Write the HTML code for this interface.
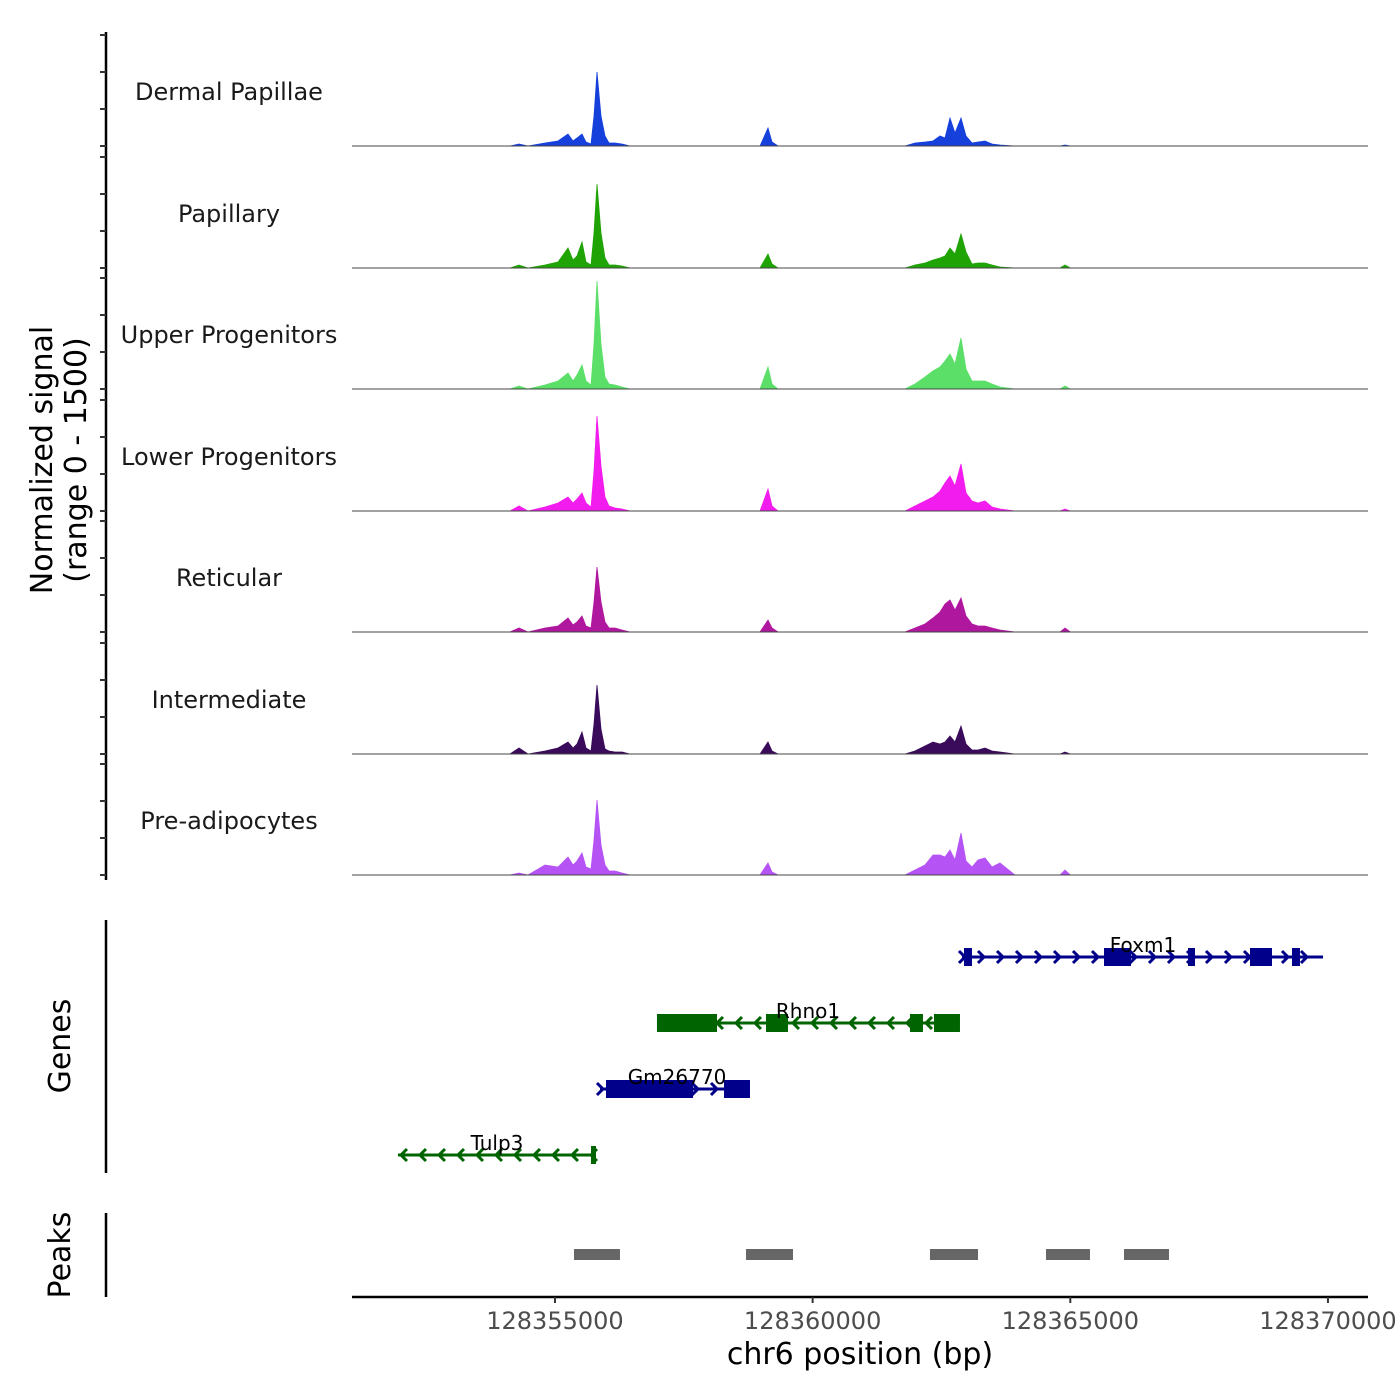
<!DOCTYPE html>
<html><head><meta charset="utf-8"><style>
body{margin:0;background:#fff;}
svg{display:block;font-family:"DejaVu Sans","Liberation Sans",sans-serif;}
</style></head><body>
<svg id="chart" width="1400" height="1400" viewBox="0 0 1400 1400"></svg>
<script>
const positions=[128351061,128354127,128354301,128354476,128354806,128355058,128355252,128355349,128355427,128355524,128355602,128355699,128355757,128355815,128355893,128355970,128356048,128356164,128356300,128356455,128358978,128359133,128359211,128359328,128361792,128361986,128362180,128362335,128362471,128362568,128362665,128362762,128362879,128362976,128363092,128363209,128363344,128363480,128363636,128363927,128364800,128364897,128365000,128365092,128370777];
const trackNames=["Dermal Papillae","Papillary","Upper Progenitors","Lower Progenitors","Reticular","Intermediate","Pre-adipocytes"];
const trackColors=["#1540dc","#1fa305","#5bdf68","#f31cef","#b0179f","#3a0b5b","#b553f5"];
const dermalValues=[0,0,27,0,40,68,162,68,108,162,54,27,405,1000,405,135,40,40,27,0,0,243,54,0,0,40,54,68,135,108,378,176,378,135,40,54,68,27,14,0,0,14,0,0,0];
const papillaryValues=[0,0,40,0,40,81,270,108,162,351,81,40,473,1134,473,135,40,40,27,0,0,189,54,0,0,40,68,108,135,162,270,189,459,216,54,68,68,40,14,0,0,40,0,0,0];
const upperValues=[0,0,40,0,54,108,216,108,189,324,108,54,608,1458,608,162,68,54,27,0,0,297,68,0,0,68,162,243,297,378,473,338,689,270,108,108,108,68,27,0,0,40,0,0,0];
const lowerValues=[0,0,68,0,54,108,189,108,162,243,108,54,540,1283,608,189,68,40,27,0,0,297,68,0,0,68,135,189,270,378,473,338,635,243,135,108,135,54,27,0,0,27,0,0,0];
const reticularValues=[0,0,54,0,54,81,189,95,135,216,81,54,405,878,405,135,54,54,27,0,0,162,54,0,0,54,108,189,270,378,432,297,459,216,108,81,81,54,27,0,0,54,0,0,0];
const intermediateValues=[0,0,81,0,40,81,162,81,135,297,81,40,405,932,338,68,40,27,27,0,0,162,40,0,0,40,108,162,135,162,243,162,378,135,54,54,81,40,27,0,0,27,0,0,0];
const preadipValues=[0,0,27,0,135,108,243,135,189,297,108,81,473,1013,405,135,54,54,27,0,0,162,40,0,0,68,135,270,270,243,338,203,567,189,108,203,230,108,162,0,0,68,0,0,0];
const trackValues=[dermalValues,papillaryValues,upperValues,lowerValues,reticularValues,intermediateValues,preadipValues];
const xTicks=[128355000,128360000,128365000,128370000];
const yTicks=[0,500,1000,1500];
const genes=[
 {name:"Foxm1",strand:"+",start:128362898,end:128369904,row:0,exons:[[128362937,128363092],[128365654,128366178],[128367284,128367420],[128368487,128368914],[128369302,128369457]]},
 {name:"Rhno1",strand:"-",start:128356979,end:128362859,row:1,exons:[[128356979,128358144],[128359095,128359522],[128361889,128362141],[128362355,128362859]]},
 {name:"Gm26770",strand:"+",start:128355873,end:128358784,row:2,exons:[[128355990,128357678],[128358280,128358784]]},
 {name:"Tulp3",strand:"-",start:128351953,end:128355776,row:3,exons:[[128355699,128355796]]}
];
const peakStarts=[128355369,128358707,128362277,128364528,128366042];
const peakEnds=[128356261,128359619,128363209,128365382,128366915];

const NS="http://www.w3.org/2000/svg";
const svg=document.getElementById('chart');
function mk(tag,attrs,parent){const e=document.createElementNS(NS,tag);for(const k in attrs)e.setAttribute(k,attrs[k]);(parent||svg).appendChild(e);return e;}
const X0=352,X1=1368,BP0=128351061,BP1=128370777;
function xs(bp){return X0+(bp-BP0)/(BP1-BP0)*(X1-X0);}
const baselines=[146,268,389,511,632,754,875];
function ys(v,t){return baselines[t]-v*0.074;}

let ax=mk('line',{x1:106,y1:32,x2:106,y2:880,stroke:'#000','stroke-width':2.5});

for(let t=0;t<7;t++){
 for(const tv of yTicks){
  let tk=mk('line',{x1:100,x2:106,y1:ys(tv,t),y2:ys(tv,t),stroke:'#333','stroke-width':2});
  
 }
 const g=mk('g',{});
 
 
 let d='M'+xs(positions[0])+','+baselines[t];
 for(let i=0;i<positions.length;i++)d+=' L'+xs(positions[i]).toFixed(1)+','+ys(trackValues[t][i],t).toFixed(1);
 d+=' L'+xs(positions[positions.length-1])+','+baselines[t]+' Z';
 let p=mk('path',{d:d,fill:trackColors[t],stroke:trackColors[t],'stroke-width':0.8},g);
 
 let bl=mk('line',{x1:X0,x2:X1,y1:baselines[t],y2:baselines[t],stroke:'#444','stroke-width':1},g);
 
 let lb=mk('text',{x:229,y:baselines[t]-46,'text-anchor':'middle','font-size':24,fill:'#1a1a1a'},g);
 lb.textContent=trackNames[t];
 
}
let yt=mk('text',{transform:'translate(52,460) rotate(-90)','text-anchor':'middle','font-size':30,fill:'#000'});

let t1=mk('tspan',{x:0,y:0},yt);t1.textContent='Normalized signal';
let t2=mk('tspan',{x:0,y:34},yt);t2.textContent='(range 0 - 1500)';

let gax=mk('line',{x1:106,y1:920,x2:106,y2:1173,stroke:'#000','stroke-width':2.5});

let gt=mk('text',{transform:'translate(70,1046) rotate(-90)','text-anchor':'middle','font-size':30,fill:'#000'});
gt.textContent='Genes';
const rowY=[957,1023,1089,1155];
const labPos={Foxm1:1143,Rhno1:808,Gm26770:677,Tulp3:497};
for(const gn of genes){
 const col=gn.strand==='+'?'#00008b':'#006400';
 const y=rowY[gn.row];
 const g=mk('g',{});
 
 
 const a=xs(gn.start),b=xs(gn.end);
 mk('line',{x1:a,x2:b,y1:y,y2:y,stroke:col,'stroke-width':3},g);
 for(let cx=a+3;cx<=b;cx+=19){
  const dx=gn.strand==='+'?-6:6;
  mk('polyline',{points:(cx+dx)+','+(y-6)+' '+cx+','+y+' '+(cx+dx)+','+(y+6),fill:'none',stroke:col,'stroke-width':3},g);
 }
 for(const ex of gn.exons){
  let r=mk('rect',{x:xs(ex[0]),y:y-9,width:Math.max(5,xs(ex[1])-xs(ex[0])),height:18,fill:col},g);
  
 }
 let lab=mk('text',{x:labPos[gn.name],y:y-5,'text-anchor':'middle','font-size':20,fill:'#000'},g);
 lab.textContent=gn.name;
 
}

let pax=mk('line',{x1:106,y1:1213,x2:106,y2:1297,stroke:'#000','stroke-width':2.5});

let pt=mk('text',{transform:'translate(70,1255) rotate(-90)','text-anchor':'middle','font-size':30,fill:'#000'});
pt.textContent='Peaks';
for(let i=0;i<peakStarts.length;i++){
 let r=mk('rect',{x:xs(peakStarts[i]),y:1249,width:xs(peakEnds[i])-xs(peakStarts[i]),height:11,fill:'#666'});
 
}

let xa=mk('line',{x1:X0,x2:X1,y1:1297,y2:1297,stroke:'#000','stroke-width':2.5});

for(const tv of xTicks){
 let tk=mk('line',{x1:xs(tv),x2:xs(tv),y1:1297,y2:1303,stroke:'#333','stroke-width':2});
 
 let tl=mk('text',{x:xs(tv),y:1329,'text-anchor':'middle','font-size':24,fill:'#4d4d4d'});
 tl.textContent=String(tv);
 
}
let xt=mk('text',{x:860,y:1364,'text-anchor':'middle','font-size':30,fill:'#000'});
xt.textContent='chr6 position (bp)';

</script>
</body></html>
